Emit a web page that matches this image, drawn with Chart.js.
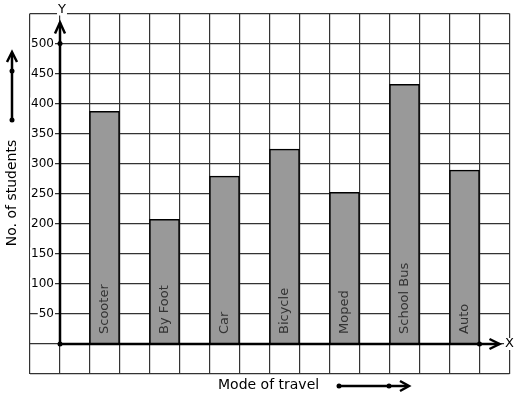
<!DOCTYPE html>
<html>
<head>
<meta charset="utf-8">
<script src="https://cdn.jsdelivr.net/npm/chart.js@4"></script>
<style>
  html, body { margin: 0; padding: 0; background: #fff; }
  #wrap { width: 517px; height: 399px; }
</style>
</head>
<body>
<div id="wrap"><canvas id="myChart" width="517" height="399"></canvas></div>
<script>
// Data (each square = 50 students)
const modes = ['Scooter', 'By Foot', 'Car', 'Bicycle', 'Moped', 'School Bus', 'Auto'];
const students = [387, 207, 279, 324, 252, 432, 289];
const yTicks = [50, 100, 150, 200, 250, 300, 350, 400, 450, 500];

const FONT = '"DejaVu Sans", sans-serif';
const slotCount = 16; // columns of the graph paper

// Each mode sits in every second column, starting from the third one
const slotLabels = [];
const slotValues = [];
for (let s = 0; s < slotCount; s++) {
    slotLabels.push('');
    slotValues.push(null);
}
modes.forEach((m, i) => {
    slotLabels[2 + 2 * i] = m;
    slotValues[2 + 2 * i] = students[i];
});

function chevron(ctx, tx, ty, dir, w, len) {
    ctx.beginPath();
    if (dir === 'up') {
        ctx.moveTo(tx - w, ty + len);
        ctx.lineTo(tx, ty);
        ctx.lineTo(tx + w, ty + len);
    } else {
        ctx.moveTo(tx - len, ty - w);
        ctx.lineTo(tx, ty);
        ctx.lineTo(tx - len, ty + w);
    }
    ctx.stroke();
}

function dot(ctx, x, y) {
    ctx.beginPath();
    ctx.arc(x, y, 2.5, 0, Math.PI * 2);
    ctx.fill();
}

function boxedText(ctx, text, x, y, align) {
    ctx.textAlign = align;
    const w = ctx.measureText(text).width;
    const left = align === 'right' ? x - w : (align === 'center' ? x - w / 2 : x);
    ctx.fillStyle = '#fff';
    ctx.fillRect(left - 1, y - 6, w + 2, 12);
    ctx.fillStyle = '#000';
    ctx.fillText(text, x, y);
}

// Draws the axes, arrows and labels on top of the graph paper
const graphPaper = {
    id: 'graphPaper',
    afterDatasetsDraw(chart) {
        const {ctx, chartArea: area, scales: {x, y}} = chart;
        const ox = Math.round((x.getPixelForValue(0) + x.getPixelForValue(1)) / 2);
        const oy = Math.round(y.getPixelForValue(0));
        ctx.save();
        ctx.textBaseline = 'middle';

        // bar names, written upwards inside the bars
        ctx.font = '13px ' + FONT;
        ctx.fillStyle = '#333';
        chart.getDatasetMeta(0).data.forEach((bar, idx) => {
            if (!slotLabels[idx]) return;
            ctx.save();
            ctx.translate(bar.x, oy - 10);
            ctx.rotate(-Math.PI / 2);
            ctx.textAlign = 'left';
            ctx.fillText(slotLabels[idx], 0, 0);
            ctx.restore();
        });

        // y tick labels with a white backing over the grid
        ctx.font = '12px ' + FONT;
        yTicks.forEach(v => boxedText(ctx, String(v), ox - 6, y.getPixelForValue(v), 'right'));

        // bold axes
        ctx.strokeStyle = '#000';
        ctx.fillStyle = '#000';
        ctx.lineWidth = 2.5;
        ctx.beginPath();
        ctx.moveTo(ox, oy);
        ctx.lineTo(ox, area.top + 9);
        ctx.moveTo(ox, oy);
        ctx.lineTo(area.right - 10, oy);
        ctx.stroke();
        chevron(ctx, ox, area.top + 9, 'up', 5, 11);
        chevron(ctx, area.right - 10, oy, 'right', 5, 10);
        dot(ctx, ox, oy);
        dot(ctx, ox, y.getPixelForValue(500));
        dot(ctx, (x.getPixelForValue(14) + x.getPixelForValue(15)) / 2, oy);

        ctx.font = '13px ' + FONT;
        boxedText(ctx, 'Y', ox + 2, area.top - 4, 'center');
        boxedText(ctx, 'X', area.right, oy, 'center');

        // y axis title and its arrow
        ctx.font = '14px ' + FONT;
        ctx.fillStyle = '#000';
        ctx.save();
        ctx.translate(12, 193);
        ctx.rotate(-Math.PI / 2);
        ctx.textAlign = 'center';
        ctx.fillText('No. of students', 0, 0);
        ctx.restore();
        ctx.beginPath();
        ctx.moveTo(12, 120);
        ctx.lineTo(12, 53);
        ctx.stroke();
        chevron(ctx, 12, 52, 'up', 5, 10);
        dot(ctx, 12, 71);
        dot(ctx, 12, 120);

        // x axis title and its arrow
        ctx.textAlign = 'left';
        ctx.fillText('Mode of travel', 218, 385);
        ctx.beginPath();
        ctx.moveTo(339, 386);
        ctx.lineTo(408, 386);
        ctx.stroke();
        chevron(ctx, 409, 386, 'right', 5, 9);
        dot(ctx, 339, 386);
        dot(ctx, 389, 386);

        ctx.restore();
    }
};

const ctx = document.getElementById('myChart').getContext('2d');
new Chart(ctx, {
    type: 'bar',
    data: {
        labels: slotLabels,
        datasets: [{
            data: slotValues,
            backgroundColor: '#999999',
            borderColor: '#000',
            borderWidth: 1.5,
            borderSkipped: 'bottom',
            barPercentage: 1,
            categoryPercentage: 1
        }]
    },
    options: {
        responsive: false,
        devicePixelRatio: 1,
        animation: false,
        layout: { padding: { left: 29.5, right: 7.5, top: 13.5, bottom: 25.5 } },
        plugins: {
            legend: { display: false },
            tooltip: { enabled: false }
        },
        scales: {
            x: {
                ticks: { display: false },
                grid: { color: '#333', lineWidth: 1.2, drawTicks: false, offset: true },
                border: { display: false }
            },
            y: {
                min: -50,
                max: 550,
                ticks: { display: false, stepSize: 50 },
                grid: { color: '#333', lineWidth: 1.2, drawTicks: false },
                border: { display: false }
            }
        }
    },
    plugins: [graphPaper]
});
</script>
</body>
</html>
